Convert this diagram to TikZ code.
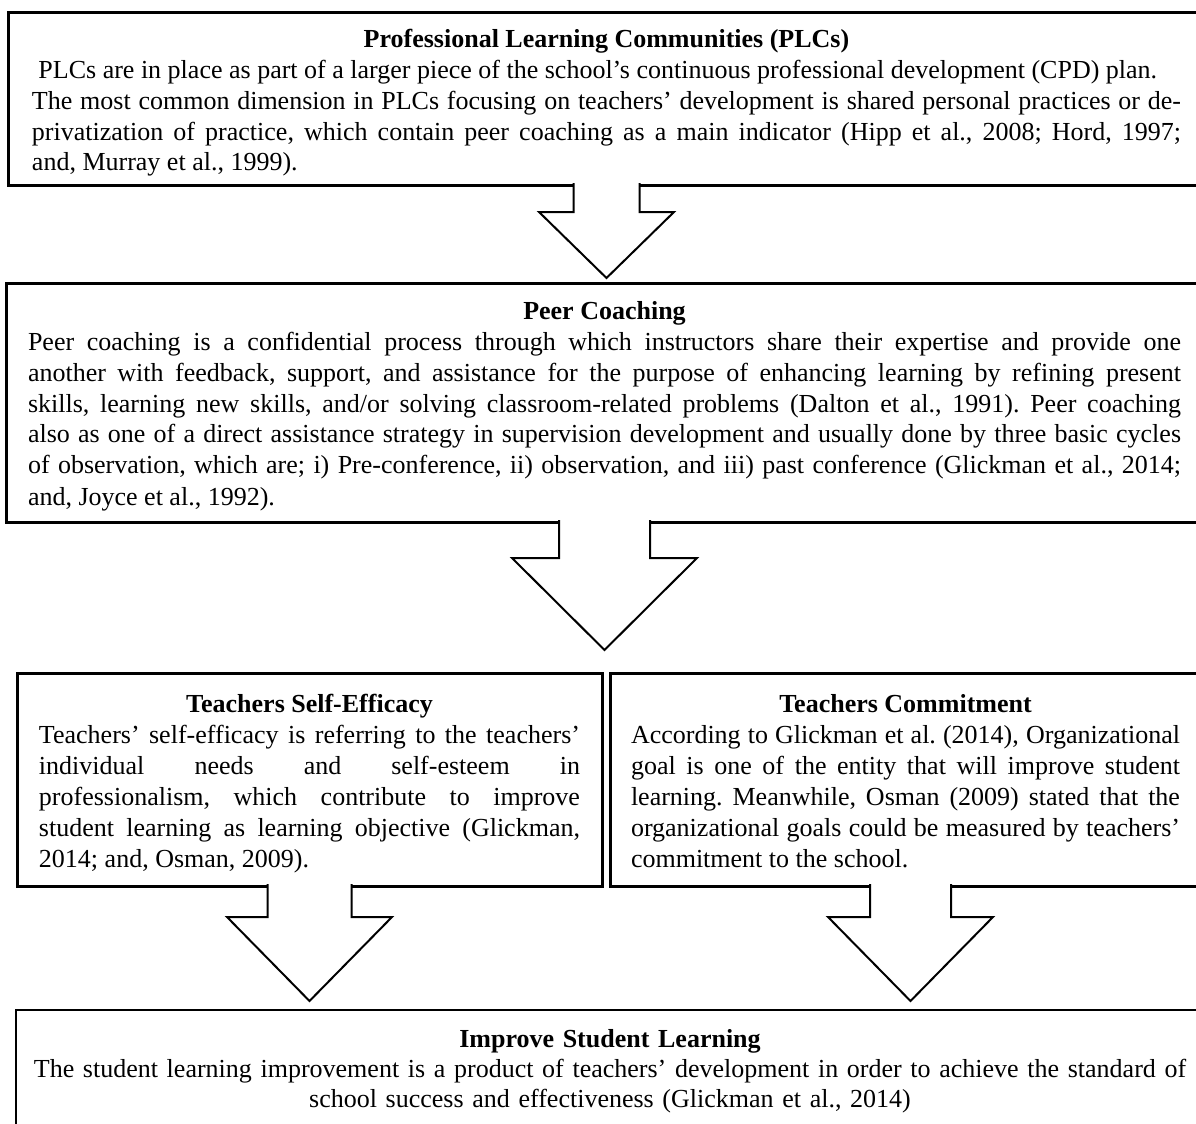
\documentclass[tikz,border=0pt]{standalone}
\usepackage{fontspec}
\setmainfont{Liberation Serif}
\usetikzlibrary{calc}

\newcommand{\boxtitle}[1]{{\centering\bfseries #1\par}}
% block arrow: from, to, gap, stem half width, head half width, shoulder
\newcommand{\blockarrow}[6]{%
	\path (#1) coordinate (top) ($(#2)+(0,-#3)$) coordinate (row);
	\draw[blockarrow] ($(top)+(-#4,-2)$) -- ($(top)+(-#4,#6)$) -- ($(top)+(-#5,#6)$)
	-- (top |- row) -- ($(top)+(#5,#6)$) -- ($(top)+(#4,#6)$) -- ($(top)+(#4,-2)$);
}

\begin{document}
\begin{tikzpicture}[x=0.5pt, y=-0.5pt, font=\fontsize{13}{15.5}\selectfont, line join=miter,
	box/.style={draw, line width=1.5pt, anchor=north west, outer sep=0pt, inner ysep=0pt, align=justify,
		execute at begin node={\frenchspacing\tolerance=10000\hyphenpenalty=10000\exhyphenpenalty=10000}},
	blockarrow/.style={line width=1pt, fill=white}]
	%			\draw[gray,xstep = 100, ystep = 100] (0,0) grid (1196,1124);
	\clip (0,0) rectangle (1196,1124);
	\fill[white] (0,0) rectangle (1196,1124);
	
	\node[box, inner xsep=12pt, text width=574.5pt, text height=17.5pt, text depth=69pt] (plc) at (8,12)
	{\boxtitle{Professional Learning Communities (PLCs)}%
		\ PLCs are in place as part of a larger piece of the school’s continuous professional development (CPD) plan.\par
		The most common dimension in PLCs focusing on teachers’ development is shared personal practices or de-\linebreak
		privatization of practice, which contain peer coaching as a main indicator (Hipp et al., 2008; Hord, 1997;\linebreak
		and, Murray et al., 1999).};
	\node[box, inner xsep=11pt, text width=576.5pt, text height=18pt, text depth=101.5pt] (peer) at (6,283)
	{\boxtitle{Peer Coaching}%
		Peer coaching is a confidential process through which instructors share their expertise and provide one\linebreak
		another with feedback, support, and assistance for the purpose of enhancing learning by refining present\linebreak
		skills, learning new skills, and/or solving classroom-related problems (Dalton et al., 1991). Peer coaching\linebreak
		also as one of a direct assistance strategy in supervision development and usually done by three basic cycles\linebreak
		of observation, which are; i) Pre-conference, ii) observation, and iii) past conference (Glickman et al., 2014;\linebreak
		and, Joyce et al., 1992).};
	\node[box, inner xsep=11pt, text width=270.5pt, text height=19.5pt, text depth=87pt] (efficacy) at (17,673)
	{\boxtitle{Teachers Self-Efficacy}%
		Teachers’ self-efficacy is referring to the teachers’\linebreak
		individual needs and self-esteem in\linebreak
		professionalism, which contribute to improve\linebreak
		student learning as learning objective (Glickman,\linebreak
		2014; and, Osman, 2009).};
	\node[box, inner xsep=10.5pt, text width=274.5pt, text height=19.5pt, text depth=87pt] (commit) at (610,673)
	{\boxtitle{Teachers Commitment}%
		According to Glickman et al. (2014), Organizational\linebreak
		goal is one of the entity that will improve student\linebreak
		learning. Meanwhile, Osman (2009) stated that the\linebreak
		organizational goals could be measured by teachers’\linebreak
		commitment to the school.};
	\node[box, line width=0.6pt, align=center, font=\fontsize{13}{15}\selectfont, inner xsep=2pt, text width=590pt, text height=18.5pt, text depth=50pt] (improve) at (16,1010)
	{\boxtitle{Improve Student Learning}%
		The student learning improvement is a product of teachers’ development in order to achieve the standard of\\
		school success and effectiveness (Glickman et al., 2014)};
	
	\blockarrow{plc.south}{peer.north}{5}{33}{67.5}{27}
	\blockarrow{peer.south}{efficacy.north}{23}{45.5}{92.5}{36}
	\blockarrow{efficacy.south}{improve.north}{9}{42}{82.5}{31}
	\blockarrow{$(commit.south)+(5,0)$}{improve.north}{9}{40.5}{82.5}{31}
\end{tikzpicture}
\end{document}
